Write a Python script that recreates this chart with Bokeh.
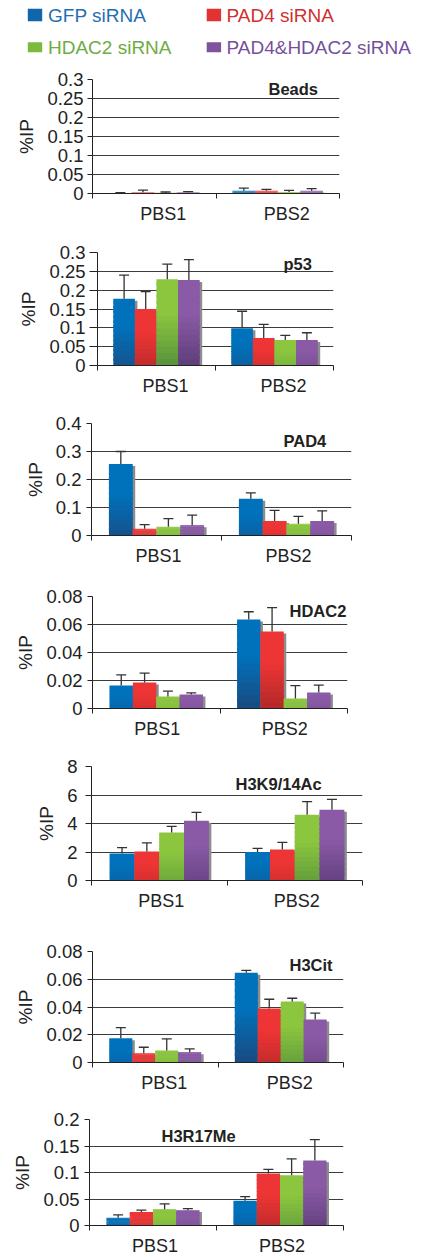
import numpy as np
from bokeh.plotting import figure
from bokeh.layouts import column
from bokeh.models import (ColumnDataSource, Range1d, FixedTicker, CustomJSTickFormatter,
                          Whisker, TeeHead, Label)
from bokeh.core.properties import value
from bokeh.embed import file_html
from bokeh.resources import INLINE

FONT = "Liberation Sans"

# ---------------- data ----------------
categories = ["PBS1", "PBS2"]
series_names = ["GFP siRNA", "PAD4 siRNA", "HDAC2 siRNA", "PAD4&HDAC2 siRNA"]

# each: [PBS1 values for 4 series], [PBS2 values for 4 series]
beads_mean = [[0.001, 0.003, 0.002, 0.003], [0.007, 0.007, 0.004, 0.007]]
beads_err = [[0.001, 0.006, 0.002, 0.002], [0.007, 0.004, 0.004, 0.006]]
beads_yticks = [0, 0.05, 0.1, 0.15, 0.2, 0.25, 0.3]
beads_ylabels = ["0", "0.05", "0.1", "0.15", "0.2", "0.25", "0.3"]

p53_mean = [[0.177, 0.150, 0.229, 0.227], [0.099, 0.073, 0.068, 0.068]]
p53_err = [[0.063, 0.046, 0.040, 0.054], [0.045, 0.036, 0.012, 0.019]]
p53_yticks = [0, 0.05, 0.1, 0.15, 0.2, 0.25, 0.3]
p53_ylabels = ["0", "0.05", "0.1", "0.15", "0.2", "0.25", "0.3"]

pad4_mean = [[0.255, 0.024, 0.031, 0.037], [0.131, 0.052, 0.042, 0.052]]
pad4_err = [[0.045, 0.015, 0.029, 0.036], [0.021, 0.038, 0.026, 0.036]]
pad4_yticks = [0, 0.1, 0.2, 0.3, 0.4]
pad4_ylabels = ["0", "0.1", "0.2", "0.3", "0.4"]

hdac2_mean = [[0.0164, 0.0186, 0.0086, 0.0100], [0.0636, 0.0550, 0.0071, 0.0114]]
hdac2_err = [[0.0076, 0.0067, 0.0038, 0.0012], [0.0055, 0.0171, 0.0093, 0.0053]]
hdac2_yticks = [0, 0.02, 0.04, 0.06, 0.08]
hdac2_ylabels = ["0", "0.02", "0.04", "0.06", "0.08"]

h3k9_mean = [[1.89, 2.03, 3.36, 4.20], [2.00, 2.17, 4.62, 4.97]]
h3k9_err = [[0.42, 0.61, 0.44, 0.58], [0.26, 0.51, 0.91, 0.72]]
h3k9_yticks = [0, 2, 4, 6, 8]
h3k9_ylabels = ["0", "2", "4", "6", "8"]

h3cit_mean = [[0.0174, 0.0067, 0.0086, 0.0074], [0.0647, 0.0389, 0.0439, 0.0310]]
h3cit_err = [[0.0077, 0.0043, 0.0084, 0.0024], [0.0017, 0.0067, 0.0024, 0.0046]]
h3cit_yticks = [0, 0.02, 0.04, 0.06, 0.08]
h3cit_ylabels = ["0", "0.02", "0.04", "0.06", "0.08"]

h3r17_mean = [[0.0147, 0.0254, 0.0307, 0.0289], [0.0466, 0.0980, 0.0950, 0.1227]]
h3r17_err = [[0.0053, 0.0035, 0.0100, 0.0030], [0.0077, 0.0080, 0.0307, 0.0395]]
h3r17_yticks = [0, 0.05, 0.1, 0.15, 0.2]
h3r17_ylabels = ["0", "0.05", "0.1", "0.15", "0.2"]

# ---------------- styles ----------------
top_colors = ["#0072bc", "#ee3535", "#8cc63f", "#8a5aa6"]
bottom_colors = ["#1a4a80", "#a82626", "#55903a", "#5c3c78"]
legend_glyph_colors = ["#0f66ad", "#e23232", "#7db83f", "#7e529c"]
legend_text_colors = ["#1f6fb2", "#d03030", "#6fab45", "#75509a"]
AXIS_COLOR = "#222222"
GRID_COLOR = "#3c3c3c"
ERR_COLOR = "#333333"


def hex2rgb(h):
    h = h.lstrip("#")
    return [int(h[i:i + 2], 16) for i in (0, 2, 4)]


def mix(c1, c2, t):
    a, b = hex2rgb(c1), hex2rgb(c2)
    return "#%02x%02x%02x" % tuple(int(round(a[i] + (b[i] - a[i]) * t)) for i in range(3))


PAGE_W = 422


def make_panel(title, means, errs, yticks, ylabels, L):
    fig_h = L["fig_bottom"] - L["fig_top"]
    mbt = L["frame_top"] - L["fig_top"]
    mbb = L["fig_bottom"] - L["frame_bottom"]
    mbl = L["frame_left"]
    mbr = PAGE_W - L["frame_right"]
    fw = L["frame_right"] - L["frame_left"]
    fh = L["frame_bottom"] - L["frame_top"]
    ymax = yticks[-1]
    ncat = len(categories)

    p = figure(width=PAGE_W, height=fig_h, x_range=Range1d(0, ncat), y_range=Range1d(0, ymax),
               min_border_left=mbl, min_border_right=mbr, min_border_top=mbt, min_border_bottom=mbb,
               toolbar_location=None, output_backend="svg", title=None)
    p.frame_align = False
    p.outline_line_color = None
    p.background_fill_color = "white"
    p.border_fill_color = "white"

    w = 0.183
    N = 14
    sl = dict(x=[], bottom=[], top=[], color=[])
    sh = dict(x=[], top=[])
    er = dict(base=[], lower=[], upper=[])
    px_x = ncat / fw
    px_y = ymax / fh
    for j in range(len(series_names)):
        for i in range(ncat):
            v = means[i][j]
            e = errs[i][j]
            xc = i + 0.5 + (j - 1.5) * w
            hpx = v / px_y
            s = min(1.0, hpx / 90.0)
            for k in range(N):
                f = (k + 0.5) / N
                t = max(0.0, (0.6 - f) / 0.6) * s
                sl["x"].append(xc)
                sl["bottom"].append(v * k / N)
                sl["top"].append(v * min(k + 1.5, N) / N)
                sl["color"].append(mix(top_colors[j], bottom_colors[j], t))
            sh["x"].append(xc + 2.5 * px_x)
            sh["top"].append(max(0.0, v - 2.0 * px_y))
            er["base"].append(xc)
            er["lower"].append(v)
            er["upper"].append(v + e)

    p.vbar(x="x", top="top", bottom=0, width=w, source=ColumnDataSource(sh),
           fill_color="#8c8c8c", line_color=None)
    p.vbar(x="x", top="top", bottom="bottom", width=w, source=ColumnDataSource(sl),
           fill_color="color", line_color=None)

    wk = Whisker(source=ColumnDataSource(er), base="base", lower="lower", upper="upper",
                 dimension="height", line_color=ERR_COLOR, line_width=1.3, level="annotation",
                 upper_head=TeeHead(size=10, line_color=ERR_COLOR, line_width=1.3),
                 lower_head=None)
    p.add_layout(wk)

    # y axis
    yt = FixedTicker(ticks=yticks)
    p.yaxis.ticker = yt
    p.yaxis.formatter = CustomJSTickFormatter(
        args=dict(tvals=yticks, tlabels=ylabels),
        code="for (let i = 0; i < tvals.length; i++) { if (Math.abs(tvals[i] - tick) < 1e-9) return tlabels[i]; } return '';")
    p.yaxis.axis_label = "%IP"
    p.yaxis.axis_label_text_font = FONT
    p.yaxis.axis_label_text_font_size = "19px"
    p.yaxis.axis_label_text_font_style = "normal"
    p.yaxis.axis_label_text_color = "#222222"
    p.yaxis.axis_label_standoff = L["lstandoff"]
    p.yaxis.major_label_text_font = FONT
    p.yaxis.major_label_text_font_size = "18.5px"
    p.yaxis.major_label_text_color = "#222222"
    p.yaxis.major_label_standoff = L["ystandoff"]
    p.yaxis.major_tick_out = L["ytick"]
    p.yaxis.major_tick_in = 0
    p.yaxis.minor_tick_out = 0
    p.yaxis.minor_tick_in = 0
    p.yaxis.axis_line_color = AXIS_COLOR
    p.yaxis.major_tick_line_color = AXIS_COLOR

    # x axis
    xt = FixedTicker(ticks=[i + 0.5 + L["label_shift"] * px_x for i in range(ncat)],
                     minor_ticks=list(range(ncat + 1)))
    p.xaxis.ticker = xt
    p.xaxis.formatter = CustomJSTickFormatter(args=dict(cats=categories),
                                              code="return cats[Math.floor(tick)];")
    p.xaxis.major_tick_out = 0
    p.xaxis.major_tick_in = 0
    p.xaxis.minor_tick_out = 5
    p.xaxis.minor_tick_in = 0
    p.xaxis.minor_tick_line_color = AXIS_COLOR
    p.xaxis.axis_line_color = AXIS_COLOR
    p.xaxis.major_label_text_font = FONT
    p.xaxis.major_label_text_font_size = "18px"
    p.xaxis.major_label_text_color = "#222222"
    p.xaxis.major_label_standoff = L["xstandoff"]

    p.xgrid.grid_line_color = None
    p.ygrid.ticker = yt
    p.ygrid.grid_line_color = GRID_COLOR
    p.ygrid.grid_line_width = 1

    tx = L["title_dx"] * px_x
    ty = ymax * (1 - L["title_dy"] / fh)
    p.add_layout(Label(x=tx, y=ty, text=title, text_font=FONT, text_font_size="16.5px",
                       text_font_style="bold", text_color="#222222",
                       text_align="left", text_baseline="middle"))
    return p


# layout (page px, page origin at 0,0)
layouts = [
    dict(fig_top=62, fig_bottom=232, frame_top=79, frame_bottom=193, frame_left=92, frame_right=339,
         title_dx=176, title_dy=9.7, label_shift=9, ytick=5, ystandoff=4, xstandoff=5, lstandoff=7),
    dict(fig_top=232, fig_bottom=402, frame_top=252, frame_bottom=365, frame_left=97, frame_right=333,
         title_dx=186, title_dy=11.3, label_shift=9, ytick=8, ystandoff=4, xstandoff=5, lstandoff=7),
    dict(fig_top=402, fig_bottom=572, frame_top=423, frame_bottom=535, frame_left=91, frame_right=351,
         title_dx=192, title_dy=17.3, label_shift=2, ytick=5, ystandoff=5, xstandoff=5, lstandoff=7),
    dict(fig_top=572, fig_bottom=745, frame_top=596, frame_bottom=708, frame_left=92, frame_right=347,
         title_dx=197, title_dy=14, label_shift=1, ytick=5, ystandoff=5, xstandoff=5, lstandoff=7),
    dict(fig_top=745, fig_bottom=925, frame_top=766, frame_bottom=880, frame_left=91, frame_right=362,
         title_dx=144, title_dy=17.3, label_shift=2, ytick=6, ystandoff=8, xstandoff=5, lstandoff=7),
    dict(fig_top=925, fig_bottom=1095, frame_top=951, frame_bottom=1062, frame_left=92, frame_right=343,
         title_dx=197, title_dy=13.3, label_shift=9, ytick=5, ystandoff=5, xstandoff=5, lstandoff=7),
    dict(fig_top=1095, fig_bottom=1258, frame_top=1119, frame_bottom=1232, frame_left=89, frame_right=343,
         title_dx=72, title_dy=17.7, label_shift=2, ytick=5, ystandoff=5, xstandoff=5, lstandoff=7),
]

panel_defs = [
    ("Beads", beads_mean, beads_err, beads_yticks, beads_ylabels),
    ("p53", p53_mean, p53_err, p53_yticks, p53_ylabels),
    ("PAD4", pad4_mean, pad4_err, pad4_yticks, pad4_ylabels),
    ("HDAC2", hdac2_mean, hdac2_err, hdac2_yticks, hdac2_ylabels),
    ("H3K9/14Ac", h3k9_mean, h3k9_err, h3k9_yticks, h3k9_ylabels),
    ("H3Cit", h3cit_mean, h3cit_err, h3cit_yticks, h3cit_ylabels),
    ("H3R17Me", h3r17_mean, h3r17_err, h3r17_yticks, h3r17_ylabels),
]

panels = [make_panel(t, m, e, yt, yl, L) for (t, m, e, yt, yl), L in zip(panel_defs, layouts)]

# ---------------- legend (own strip, pixel-mapped) ----------------
LEG_H = 62
lf = figure(width=PAGE_W, height=LEG_H, x_range=Range1d(0, PAGE_W), y_range=Range1d(LEG_H, 0),
            min_border=0, toolbar_location=None, output_backend="svg", title=None,
            x_axis_type=None, y_axis_type=None)
lf.frame_align = False
lf.outline_line_color = None
lf.grid.visible = False
leg_marker_x = [34.5, 213.4, 34.5, 213.4]
leg_marker_y = [14.5, 14.5, 46.7, 46.7]
leg_marker_h = [12.4, 12.4, 10, 10]
leg_text_x = [47.5, 226, 47.5, 226]
leg_text_y = [14.5, 14.5, 47, 47]
lf.rect(x=leg_marker_x, y=leg_marker_y, width=14.4, height=leg_marker_h,
        fill_color=legend_glyph_colors, line_color=None)
lf.text(x=leg_text_x, y=leg_text_y, text=series_names, text_color=legend_text_colors,
        text_font=value(FONT), text_font_size=value("19px"),
        text_align="left", text_baseline="middle")

layout = column(lf, *panels, spacing=0)
open("out.html", "w").write(file_html(layout, INLINE))
